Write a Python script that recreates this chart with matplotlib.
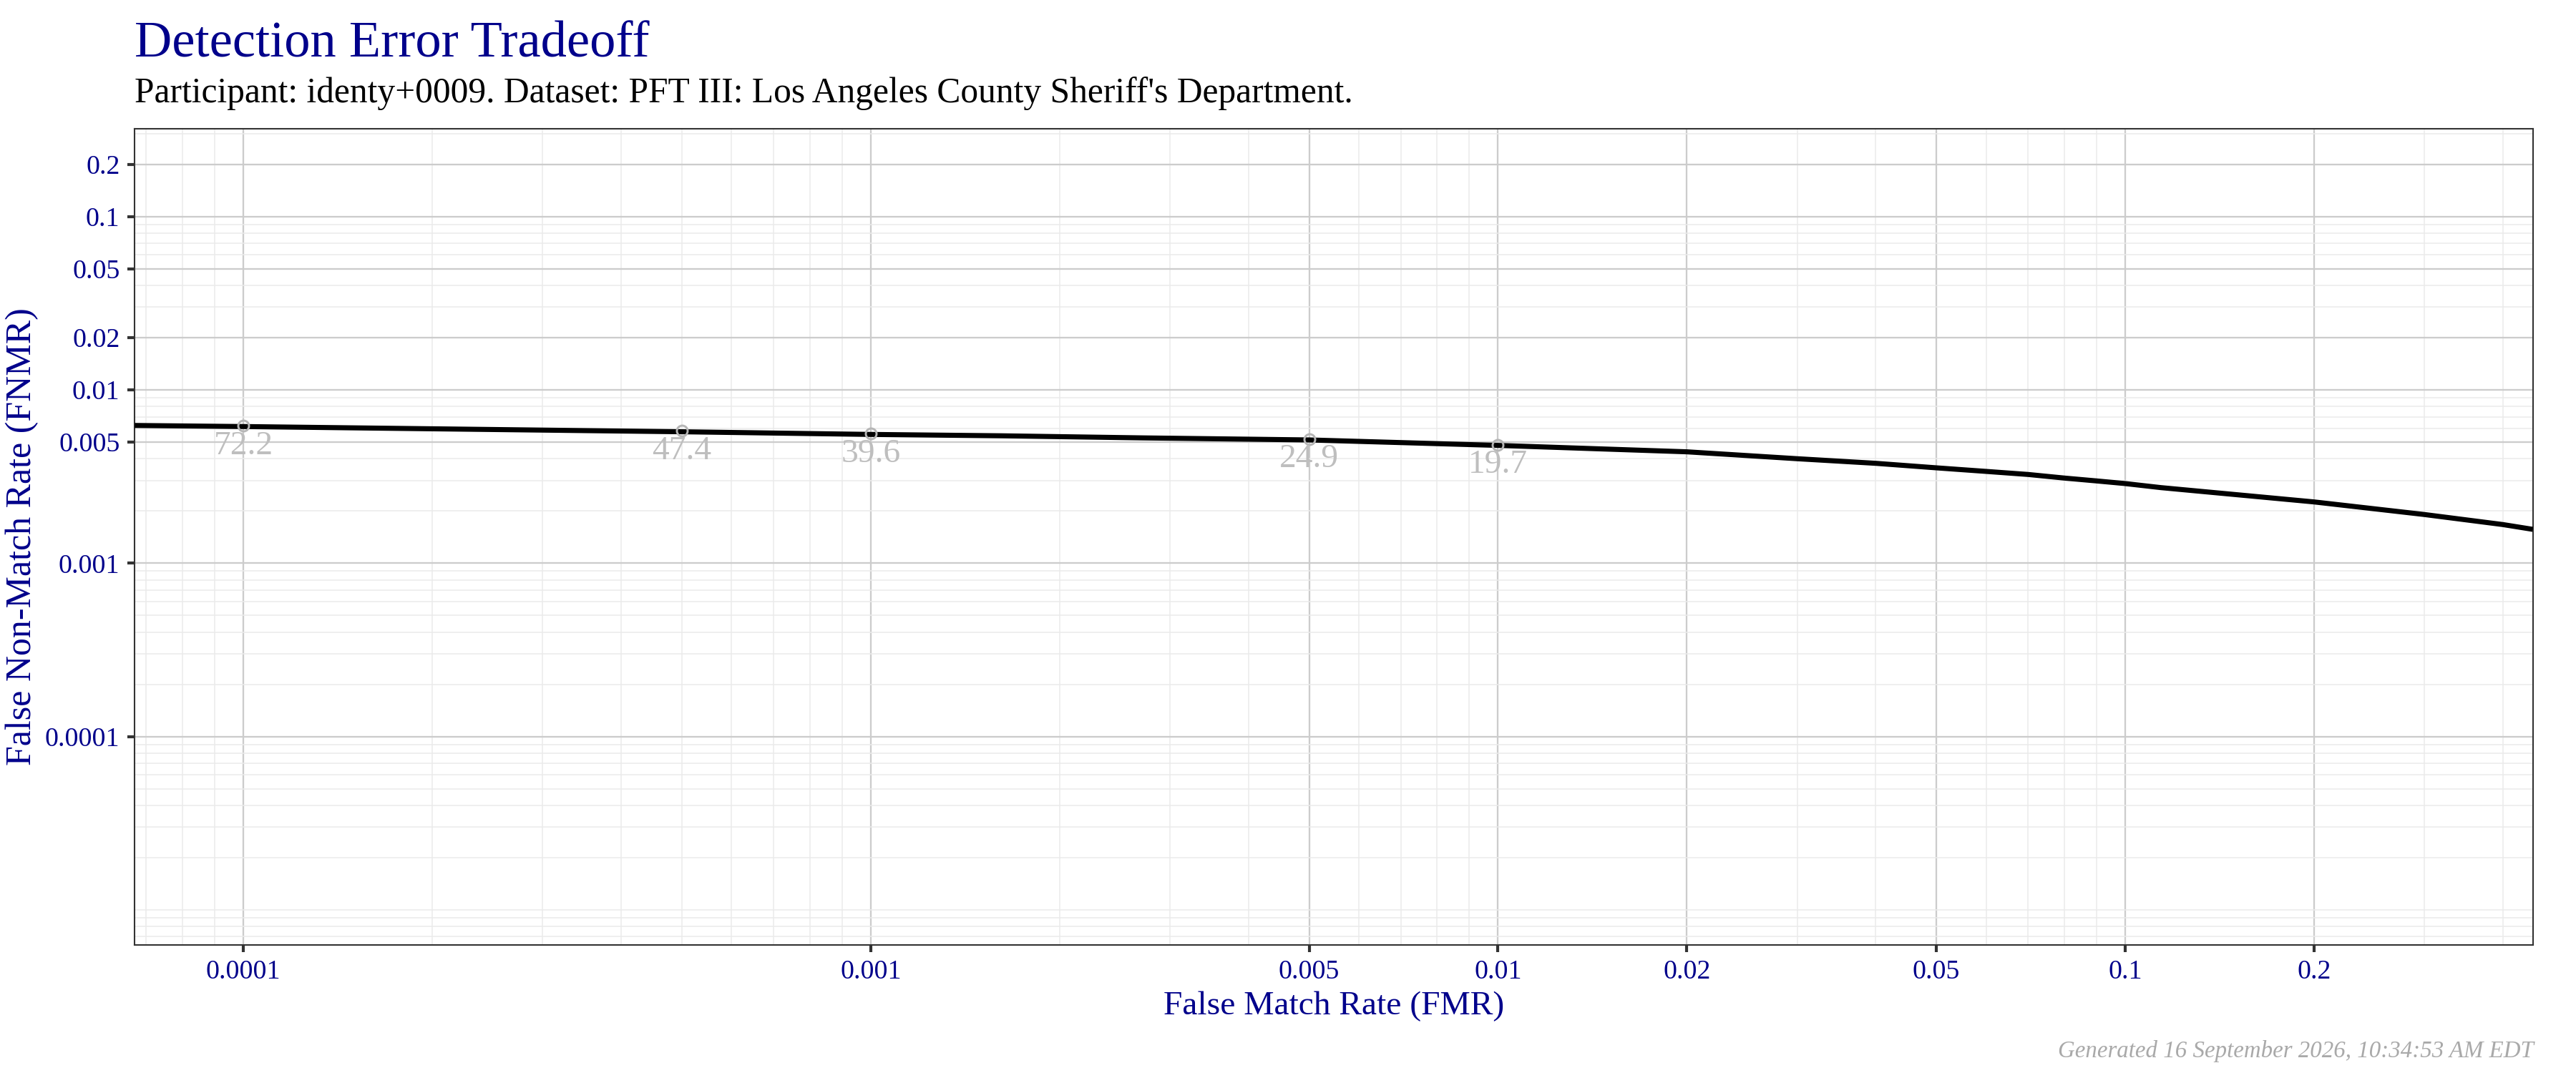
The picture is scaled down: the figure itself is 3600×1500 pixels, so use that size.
import matplotlib
matplotlib.use("Agg")
import matplotlib.pyplot as plt
import numpy as np
from matplotlib.ticker import FixedLocator, NullFormatter

plt.rcParams['font.family'] = ['Liberation Serif', 'DejaVu Serif']

# DET curve
fmr = [6.71e-5, 1e-4, 5e-4, 1e-3, 1.62e-3, 2.73e-3, 5e-3, 1e-2, 2e-2,
       3e-2, 4e-2, 5e-2, 6e-2, 7e-2, 8e-2, 9e-2, 0.1, 0.114, 0.2, 0.3,
       0.4, 0.4465]
fnmr = [0.00623, 0.00614, 0.00573, 0.00553, 0.00543, 0.00528, 0.00514,
        0.00478, 0.00439, 0.004005, 0.003768, 0.003548, 0.003384,
        0.003249, 0.003097, 0.002982, 0.002879, 0.002728, 0.002256,
        0.001908, 0.00167, 0.001567]

# threshold points
thr_fmr = [1e-4, 5e-4, 1e-3, 5e-3, 1e-2]
thr_fnmr = [0.00619, 0.00579, 0.00558, 0.00518, 0.00482]
thr_labels = ['72.2', '47.4', '39.6', '24.9', '19.7']

x_breaks = [0.0001, 0.001, 0.005, 0.01, 0.02, 0.05, 0.1, 0.2]
x_labels = ['0.0001', '0.001', '0.005', '0.01', '0.02', '0.05', '0.1', '0.2']
y_breaks = [0.0001, 0.001, 0.005, 0.01, 0.02, 0.05, 0.1, 0.2]
y_labels = ['0.0001', '0.001', '0.005', '0.01', '0.02', '0.05', '0.1', '0.2']

blue = '#00008B'

fig = plt.figure(figsize=(12, 5), dpi=300)
ax = fig.add_axes([0.0523, 0.11933, 0.98325 - 0.0523, 0.88 - 0.11933])

ax.set_xscale('log')
ax.set_yscale('log')
ax.set_xlim(6.71e-5, 0.4465)
ax.set_ylim(6.27e-6, 0.3208)

# minor grid at every k*10^n
minors = [k * 10.0 ** n for n in range(-6, 1) for k in range(1, 10)]
ax.xaxis.set_minor_locator(FixedLocator([m for m in minors if m not in x_breaks]))
ax.yaxis.set_minor_locator(FixedLocator([m for m in minors if m not in y_breaks]))
ax.xaxis.set_minor_formatter(NullFormatter())
ax.yaxis.set_minor_formatter(NullFormatter())
ax.set_xticks(x_breaks)
ax.set_xticklabels(x_labels)
ax.set_yticks(y_breaks)
ax.set_yticklabels(y_labels)

ax.grid(which='minor', color='#EBEBEB', lw=0.36)
ax.grid(which='major', color='#CCCCCC', lw=0.55)
ax.set_axisbelow(True)
ax.tick_params(which='minor', length=0)
ax.tick_params(which='major', length=2.4, width=1.0, color='#333333',
               labelsize=9.1, labelcolor=blue, pad=2.6)
for s in ax.spines.values():
    s.set_color('#333333')
    s.set_linewidth(0.5)

ax.plot(fmr, fnmr, color='black', lw=1.7, solid_capstyle='butt', zorder=3)
ax.plot(thr_fmr, thr_fnmr, 'o', mfc='none', mec='#B5B5B5', ms=3.6, mew=0.7, zorder=4)
for xv, yv, lab in zip(thr_fmr, thr_fnmr, thr_labels):
    ax.annotate(lab, (xv, yv), xytext=(0, -1.6), textcoords='offset points',
                ha='center', va='top', fontsize=11.4, color='#BEBEBE', zorder=4)

fig.text(0.0521, 0.9473, 'Detection Error Tradeoff', fontsize=17.4, color=blue,
         ha='left', va='baseline')
fig.text(0.0521, (1500 - 142.7) / 1500,
         "Participant: identy+0009. Dataset: PFT III: Los Angeles County Sheriff's Department.",
         fontsize=11.9, color='black', ha='left', va='baseline')
fig.text((0.0523 + 0.98325) / 2, (1500 - 1418.3) / 1500, 'False Match Rate (FMR)',
         fontsize=11.4, color=blue, ha='center', va='baseline')
fig.text(43.3 / 3600, (0.11933 + 0.88) / 2, 'False Non-Match Rate (FNMR)',
         fontsize=12.0, color=blue, rotation=90, rotation_mode='anchor',
         ha='center', va='baseline')
fig.text(0.98353, (1500 - 1478) / 1500, 'Generated 16 September 2026, 10:34:53 AM EDT',
         fontsize=7.9, color='#A9A9A9', style='italic', ha='right', va='baseline')

fig.savefig('out.png', dpi=300, facecolor='white')
